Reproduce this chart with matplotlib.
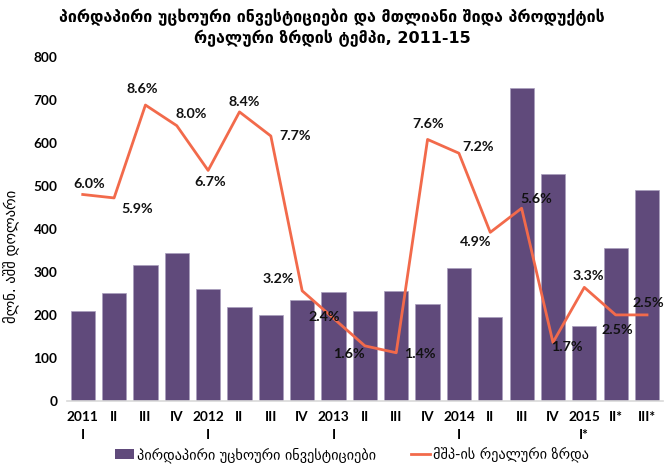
import matplotlib
matplotlib.use("Agg")
import matplotlib.pyplot as plt
from matplotlib.patches import Patch
from matplotlib.lines import Line2D

# data
quarters = ["2011\nI", "II", "III", "IV", "2012\nI", "II", "III", "IV",
            "2013\nI", "II", "III", "IV", "2014\nI", "II", "III", "IV",
            "2015\nI*", "II*", "III*"]
fdi = [210, 250, 317, 343, 261, 218, 199, 234, 253, 208, 255, 226,
       310, 196, 727, 528, 175, 355, 490]
gdp_growth = [6.0, 5.9, 8.6, 8.0, 6.7, 8.4, 7.7, 3.2, 2.4, 1.6, 1.4,
              7.6, 7.2, 4.9, 5.6, 1.7, 3.3, 2.5, 2.5]

title = ("პირდაპირი უცხოური ინვესტიციები და მთლიანი შიდა პროდუქტის\n"
         "რეალური ზრდის ტემპი, 2011-15")
ylabel = "მლნ. აშშ დოლარი"
bar_name = "პირდაპირი უცხოური ინვესტიციები"
line_name = "მშპ-ის რეალური ზრდა"

# label offsets in pixels (dx, dy up)
label_offsets = [(6, 10), (23, -11), (-3, 16), (14, 12), (2, -12), (5, 10),
                 (24, 0), (-24, 12), (-9, 1), (-16, -8), (24, -1), (1, 15),
                 (19, 6), (-15, -10), (15, 9), (14, -5), (4, 11), (2, -15),
                 (1, 12)]

plt.rcParams['font.family'] = ['Lato', 'DejaVu Sans']

bar_color = "#604a7b"
line_color = "#f26a4b"

fig = plt.figure(figsize=(6.64, 4.70), dpi=100)
ax = fig.add_axes([0.101, 0.147, 0.897, 0.732])
x = list(range(len(quarters)))

ax.bar(x, fdi, width=0.77, color=bar_color, edgecolor="#a99dbd", linewidth=0.5)
ax.set_ylim(0, 800)
ax.set_xlim(-0.5, len(quarters) - 0.5)
ax.set_yticks(range(0, 801, 100))
ax.set_xticks(x)
ax.set_xticklabels(quarters, fontweight="bold", fontsize=9.8, linespacing=1.65)
for lab in ax.get_yticklabels():
    lab.set_fontweight("bold")
    lab.set_fontsize(9.8)
ax.tick_params(length=0, pad=7)
for s in ["top", "right", "left"]:
    ax.spines[s].set_visible(False)
ax.spines["bottom"].set_color("#d9d9d9")
ax.spines["bottom"].set_linewidth(1.2)
ax.set_ylabel(ylabel, fontsize=10.5, family=['DejaVu Sans'])
ax.yaxis.set_label_coords(-0.08, 0.42)

ax2 = ax.twinx()
ax2.set_ylim(0, 10)
ax2.plot(x, gdp_growth, color=line_color, linewidth=2.0)
ax2.axis("off")
for xi, v, (dx, dy) in zip(x, gdp_growth, label_offsets):
    ax2.annotate(f"{v:.1f}%", (xi, v), xytext=(dx, dy), textcoords="offset pixels",
                 ha="center", va="center", fontsize=10.3, fontweight="bold", color="#111111")

fig.suptitle(title, fontsize=11.5, fontweight="bold", y=0.982,
             family=['DejaVu Sans'], linespacing=1.3)

handles = [Patch(facecolor=bar_color, label=bar_name),
           Line2D([0], [0], color=line_color, linewidth=2, label=line_name)]
fig.legend(handles=handles, loc="lower center", ncol=2, frameon=False,
           bbox_to_anchor=(0.53, -0.012), handlelength=1.3,
           handletextpad=0.2, columnspacing=2.5, prop={'family': ['DejaVu Sans'], 'size': 10.3})

fig.savefig("out.png", dpi=100)
